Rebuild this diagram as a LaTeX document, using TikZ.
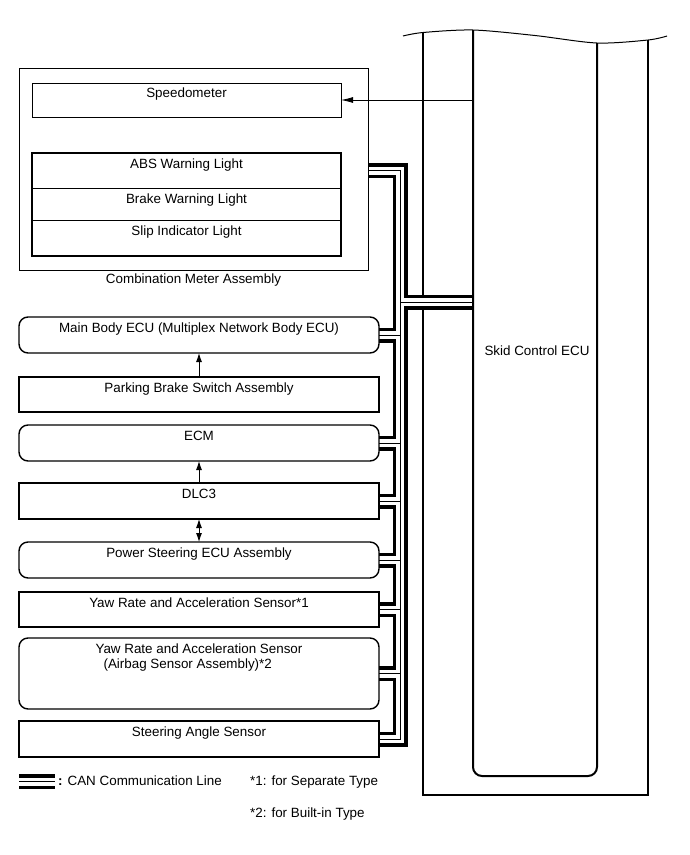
\documentclass[tikz,border=0pt]{standalone}
\usepackage{fontspec}
\setmainfont{Liberation Sans}
\usetikzlibrary{arrows.meta,positioning,calc}
\pgfdeclarelayer{bg}
\pgfdeclarelayer{wire}
\pgfsetlayers{bg,wire,main}

\begin{document}
\begin{tikzpicture}[x=1pt, y=-1pt, font=\fontsize{13.4}{15}\selectfont,
    unit/.style={draw, line width=1.4pt, minimum width=360pt, inner xsep=4pt, inner ysep=0pt, outer sep=0pt, text height=15.5pt, text depth=20.5pt},
    ecu/.style={unit, rounded corners=9pt},
    lamp/.style={draw, line width=0.8pt, minimum width=309pt, inner xsep=4pt, inner ysep=0pt, outer sep=0pt, text height=15.5pt},
    arr/.style={-{Latex[length=9pt,width=6pt]}, line width=0.9pt},
    darr/.style={{Latex[length=9pt,width=6pt]}-{Latex[length=9pt,width=6pt]}, line width=0.9pt},
    canbus/.style={line width=0.7pt, preaction={draw, line width=15pt}, preaction={draw, white, line width=8pt}}]
    \useasboundingbox (0,0) rectangle (690,855);

    % combination meter
    \node[draw, line width=0.9pt, minimum width=349pt, minimum height=202pt, inner sep=0pt, outer sep=0pt, anchor=north west] (meter) at (19,68) {};
    \node[lamp, text height=14.5pt, text depth=19.5pt, anchor=north west] (speedo) at (32,83) {Speedometer};
    \node[lamp, text depth=19.5pt, anchor=north west] (abs) at (32,153) {ABS Warning Light};
    \node[lamp, text depth=16.5pt, below=0pt of abs] (brake) {Brake Warning Light};
    \node[lamp, text depth=20.5pt, below=0pt of brake] (slip) {Slip Indicator Light};
    \draw[line width=1.4pt] (abs.north west) rectangle (slip.south east);
    \node[below=0pt of meter] (meterlabel) {Combination Meter Assembly};

    % units on the bus
    \node[ecu, anchor=north west] (mainbody) at (19,317) {Main Body ECU (Multiplex Network Body ECU)};
    \node[unit, below=24pt of mainbody, text depth=19.5pt] (parking) {Parking Brake Switch Assembly};
    \node[ecu, below=13pt of parking] (ecm) {ECM};
    \node[unit, below=22pt of ecm] (dlc) {DLC3};
    \node[ecu, below=23pt of dlc] (pwrsteer) {Power Steering ECU Assembly};
    \node[unit, below=14pt of pwrsteer, text depth=19.5pt] (yawsep) {Yaw Rate and Acceleration Sensor*1};
    \node[ecu, below=11pt of yawsep, text height=30.5pt, text depth=40.5pt, align=left] (yawbag) {Yaw Rate and Acceleration Sensor\\\hspace*{8pt}(Airbag Sensor Assembly)*2};
    \node[unit, below=12pt of yawbag] (steer) {Steering Angle Sensor};

    \draw[arr] (parking) -- (mainbody);
    \draw[arr] (dlc) -- (ecm);
    \draw[darr] (dlc) -- (pwrsteer);

    % skid control ECU
    \begin{pgfonlayer}{bg}
        \draw[line width=1.2pt] (423,32.5) -- (423,795) -- (648,795) -- (648,40);
        \draw[line width=1pt] plot[smooth] coordinates {(403,36) (423,32.5) (473,30) (535,35.5) (597,43) (648,40) (667,36)};
    \end{pgfonlayer}
    \draw[line width=2pt, rounded corners=9pt] (473,30) -- (473,776) -- (597,776) -- (597,43);
    \node (skid) at (537,351) {Skid Control ECU};
    \coordinate (bus) at (400,0);
    \coordinate (canport) at (472,302);
    \coordinate (spdport) at (473,100);
    \draw[-{Latex[length=12pt,width=6pt]}, line width=0.8pt] (spdport) -- (speedo.east);

    % CAN line
    \begin{pgfonlayer}{wire}
        \draw[canbus] (meter.east |- abs) -| (bus |- steer) -- (steer.east)
            (mainbody.east) -- (bus |- mainbody)
            (ecm.east) -- (bus |- ecm)
            (dlc.east) -- (bus |- dlc)
            (pwrsteer.east) -- (bus |- pwrsteer)
            (yawsep.east) -- (bus |- yawsep)
            (yawbag.east) -- (bus |- yawbag)
            (bus |- canport) -- (canport);
    \end{pgfonlayer}

    % legend
    \node[anchor=base west, inner sep=0pt] (canlegend) at (58,785.5) {\textbf{:} CAN Communication Line};
    \coordinate (legstart) at (19,781.5);
    \draw[canbus] (legstart) -- (legstart -| {$(canlegend.west)+(-3,0)$});
    \node[anchor=base west, inner sep=0pt] (note1) at (250,785.5) {*1: for Separate Type};
    \node[anchor=base west, inner sep=0pt] (note2) at (250,817.5) {*2: for Built-in Type};
\end{tikzpicture}
\end{document}
